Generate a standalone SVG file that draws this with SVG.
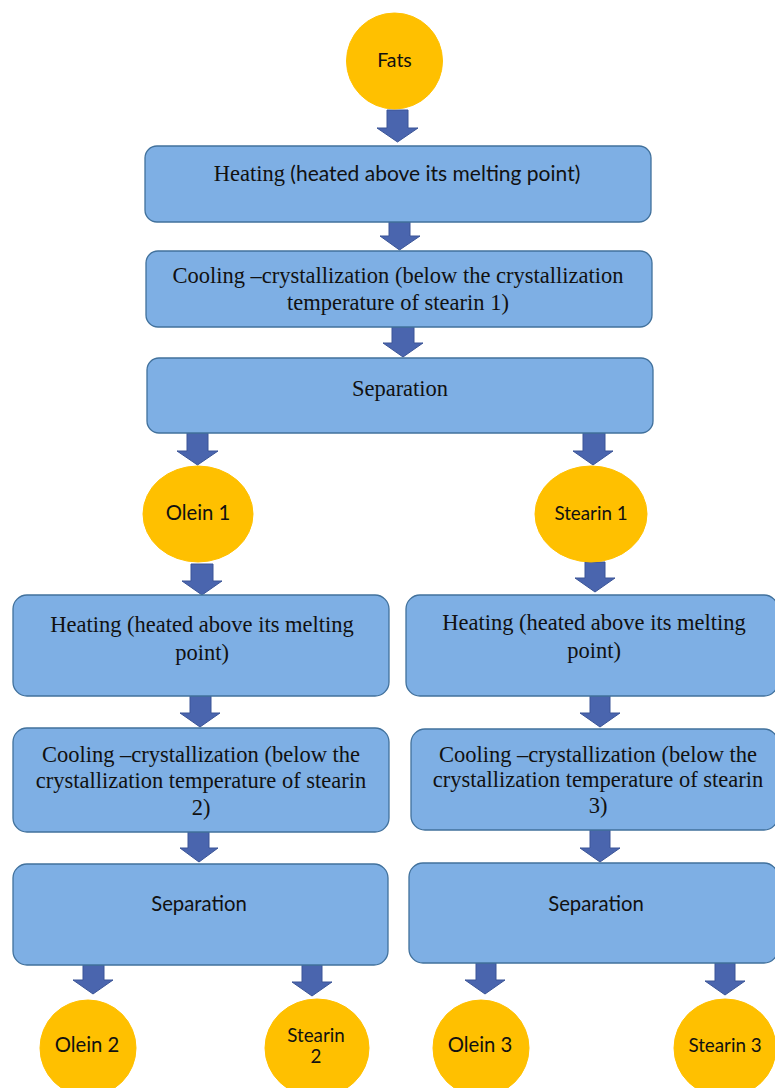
<svg xmlns="http://www.w3.org/2000/svg" width="775" height="1088" viewBox="0 0 775 1088">
<style>
.box{fill:#7EAFE4;stroke:#41719C;stroke-width:1.3}
.circ{fill:#FFC000;stroke:#FFC000;stroke-width:1}
.arr{fill:#4A65AE;stroke:#3B5597;stroke-width:1}
.serif{font-family:"Liberation Serif","Times New Roman",serif;font-size:22.5px;fill:#111;text-anchor:middle}
.sans{font-family:Lato,"Liberation Sans",Arial,sans-serif;font-size:20.3px;fill:#111;text-anchor:middle}
.small{font-family:Lato,"Liberation Sans",Arial,sans-serif;font-size:18.8px;fill:#111;text-anchor:middle}
</style>
<rect width="775" height="1088" fill="#ffffff"/>
<g id="connectors">
<path class="arr" d="M387,110H408V128H418L397.5,142L377,128H387Z"/>
<path class="arr" d="M389,222H410V236H420L399.5,250L380,236H389Z"/>
<path class="arr" d="M392,327H414V343H423L403,357L383,343H392Z"/>
<path class="arr" d="M187,433H208V451H218L197.5,465L177,451H187Z"/>
<path class="arr" d="M583,433H605V451H613L593,465L573,451H583Z"/>
<path class="arr" d="M191,564H213V581H222L202,595L182,581H191Z"/>
<path class="arr" d="M585,562H605V578H615L595,592L575,578H585Z"/>
<path class="arr" d="M190,696H211V713H220L200,727L180,713H190Z"/>
<path class="arr" d="M590,696H610V713H620L600,727L580,713H590Z"/>
<path class="arr" d="M188,832H209V848H218L199,862L180,848H188Z"/>
<path class="arr" d="M590,830H610V848H620L600,862L580,848H590Z"/>
<path class="arr" d="M83,965H104V980H113L93,994L73,980H83Z"/>
<path class="arr" d="M302,965H322V982H332L312,996L292,982H302Z"/>
<path class="arr" d="M476,963H496V980H505L485,994L465,980H476Z"/>
<path class="arr" d="M715,963H735V981H745L725,995L705,981H715Z"/>
</g>
<g id="fats">
<circle class="circ" cx="394.5" cy="61" r="48"/>
<text class="sans" x="394.5" y="67" style="font-size:19.5px">Fats</text>
</g>
<g id="heating1">
<rect class="box" x="145" y="146" width="506" height="76" rx="12"/>
<text x="397" y="181" style="font-size:22.5px;fill:#111;text-anchor:middle"><tspan style="font-family:'Liberation Serif',serif">Heating</tspan><tspan style="font-family:Lato,'Liberation Sans',sans-serif;font-size:21px"> (heated above its melting point)</tspan></text>
</g>
<g id="cooling1">
<rect class="box" x="146" y="251" width="506" height="76" rx="12"/>
<text class="serif" x="398" y="283">Cooling –crystallization (below the crystallization</text>
<text class="serif" x="398" y="310">temperature of stearin 1)</text>
</g>
<g id="separation1">
<rect class="box" x="147" y="358" width="506" height="75" rx="12"/>
<text class="serif" x="400" y="396">Separation</text>
</g>
<g id="olein1">
<ellipse class="circ" cx="198" cy="514" rx="55" ry="48"/>
<text class="sans" x="198" y="520">Olein 1</text>
</g>
<g id="stearin1">
<ellipse class="circ" cx="591" cy="514" rx="56" ry="48"/>
<text class="small" x="591" y="520">Stearin 1</text>
</g>
<g id="heating2">
<rect class="box" x="13" y="595" width="376" height="101" rx="14"/>
<text class="serif" x="202" y="632">Heating (heated above its melting</text>
<text class="serif" x="202" y="660">point)</text>
</g>
<g id="heating3">
<rect class="box" x="406" y="595" width="372" height="101" rx="14"/>
<text class="serif" x="594" y="630">Heating (heated above its melting</text>
<text class="serif" x="594" y="658">point)</text>
</g>
<g id="cooling2">
<rect class="box" x="13" y="728" width="376" height="104" rx="14"/>
<text class="serif" x="201" y="762">Cooling –crystallization (below the</text>
<text class="serif" x="201" y="788">crystallization temperature of stearin</text>
<text class="serif" x="201" y="815">2)</text>
</g>
<g id="cooling3">
<rect class="box" x="411" y="729" width="367" height="101" rx="14"/>
<text class="serif" x="598" y="762">Cooling –crystallization (below the</text>
<text class="serif" x="598" y="787">crystallization temperature of stearin</text>
<text class="serif" x="598" y="813">3)</text>
</g>
<g id="separation2">
<rect class="box" x="13" y="864" width="375" height="101" rx="14"/>
<text class="sans" x="199" y="911">Separation</text>
</g>
<g id="separation3">
<rect class="box" x="409" y="863" width="369" height="100" rx="14"/>
<text class="sans" x="596" y="911">Separation</text>
</g>
<g id="olein2">
<circle class="circ" cx="88" cy="1048" r="48"/>
<text class="sans" x="87" y="1052">Olein 2</text>
</g>
<g id="stearin2">
<ellipse class="circ" cx="317" cy="1048" rx="52" ry="49"/>
<text class="small" x="316" y="1042">Stearin</text>
<text class="small" x="316" y="1063">2</text>
</g>
<g id="olein3">
<circle class="circ" cx="481" cy="1048" r="48"/>
<text class="sans" x="480" y="1052">Olein 3</text>
</g>
<g id="stearin3">
<ellipse class="circ" cx="725" cy="1048" rx="51" ry="49"/>
<text class="small" x="725" y="1052">Stearin 3</text>
</g>
</svg>
